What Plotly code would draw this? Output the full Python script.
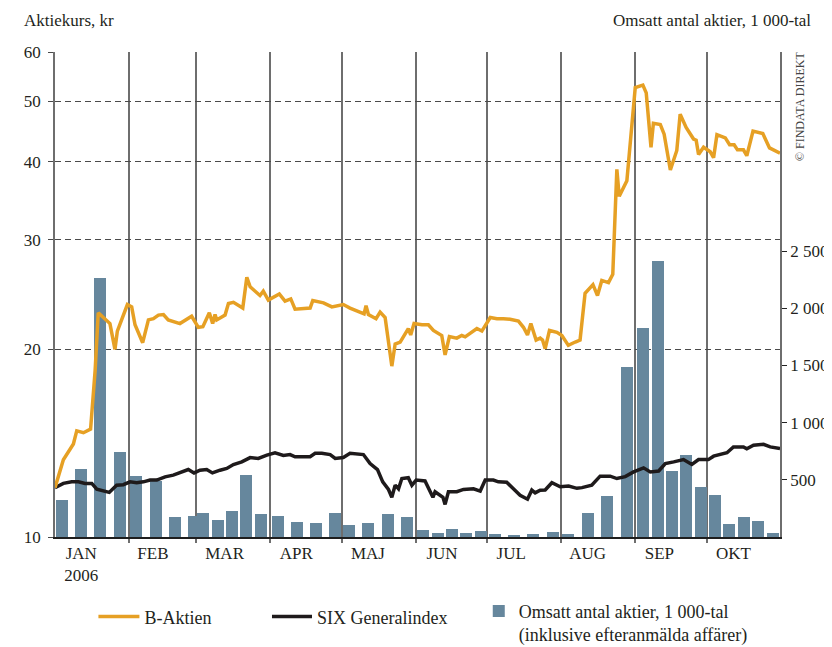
import pandas as pd
import plotly.graph_objects as go

# ---------------- data ----------------
START = "2006-01-01"

# B-Aktien, kr (days since 2006-01-01)
b_days = [0, 3.5, 7.7, 9.1, 11.9, 14.9, 16.8, 18.1, 23.0, 25.1, 26.1, 30.3, 32.1, 33.5, 36.7,
          39.1, 41.2, 43.3, 45.4, 47.4, 52.3, 57.2, 60.0, 61.9, 64.6, 66.0, 67.0, 67.7, 71.2,
          72.6, 74.7, 78.6, 80.3, 81.7, 85.8, 87.2, 89.3, 93.9, 96.3, 98.7, 100.5, 106.8, 107.9,
          112.4, 115.9, 120.7, 123.5, 127.7, 129.4, 130.2, 131.2, 134.4, 136.1, 138.2, 141.0,
          142.4, 144.5, 147.9, 148.9, 150.3, 153.6, 156.3, 158.4, 161.9, 163.3, 165.1, 168.2,
          170.3, 171.7, 176.6, 178.7, 182.2, 185.0, 187.7, 190.5, 194.0, 196.1, 197.8, 199.2,
          201.4, 203.1, 204.1, 205.2, 207.0, 210.1, 212.2, 214.9, 217.8, 219.8, 221.9, 225.2,
          227.1, 228.9, 231.7, 233.5, 235.2, 236.2, 239.4, 242.9, 246.1, 247.5, 249.5, 250.5,
          253.4, 255.0, 257.6, 260.3, 261.7, 264.2, 267.3, 268.4, 269.4, 271.5, 274.3, 275.7,
          277.1, 280.6, 282.4, 284.3, 285.7, 288.2, 289.6, 292.2, 296.3, 299.1, 303.5]
b_vals = [12.0, 13.3, 14.1, 14.8, 14.7, 14.9, 18.5, 22.9, 22.0, 20.0, 21.4, 23.6, 23.4, 21.9, 20.5,
          22.3, 22.4, 22.7, 22.75, 22.3, 22.0, 22.6, 21.7, 21.75, 22.9, 22.0, 22.75, 22.3, 22.7,
          23.7, 23.8, 23.3, 26.1, 25.2, 24.4, 24.8, 24.0, 24.55, 23.9, 24.1, 23.2, 23.3, 23.95,
          23.75, 23.4, 23.6, 23.3, 22.9, 22.8, 23.5, 22.75, 22.4, 22.95, 22.5, 18.8,
          20.4, 20.55, 21.6, 21.1, 22.0, 21.9, 21.9, 21.45, 21.05, 19.6, 20.97, 20.85,
          21.05, 20.95, 21.6, 21.4, 22.5, 22.4, 22.4, 22.35, 22.2, 21.7, 21.1, 22.0,
          20.7, 20.85, 20.7, 20.05, 21.45, 21.3, 21.05, 20.3, 20.55, 20.7, 24.6, 25.4,
          24.4, 25.8, 25.6, 26.4, 38.9, 35.2, 37.3, 52.6, 53.1, 51.6, 42.2, 46.1,
          45.9, 44.3, 38.8, 41.7, 47.7, 45.4, 43.5, 43.3, 41.1, 42.2, 41.5, 40.6,
          44.2, 43.7, 42.6, 42.6, 41.8, 41.8, 40.9, 44.8, 44.4, 42.1, 41.3]

# SIX Generalindex (rebased to the share price scale)
six_days = [0, 3.5, 7.0, 9.8, 12.6, 15.4, 17.5, 20.2, 22.7, 25.8, 28.6, 31.4, 34.2, 37.0, 39.8,
            42.6, 46.1, 49.5, 52.3, 55.8, 58.2, 60.7, 63.5, 65.9, 69.1, 71.9, 74.7, 78.2, 81.7,
            85.1, 88.7, 92.1, 95.6, 98.4, 100.5, 106.8, 108.9, 111.7, 115.2, 117.3, 120.7, 123.5,
            129.1, 131.9, 135.0, 137.2, 139.6, 141.0, 142.4, 143.8, 145.2, 147.9, 149.4, 151.2,
            154.9, 158.2, 159.1, 162.4, 163.3, 164.7, 168.2, 171.0, 175.2, 178.0, 180.1, 183.5,
            185.6, 189.1, 191.9, 194.7, 197.8, 199.6, 201.0, 203.1, 205.2, 208.0, 211.5, 215.0,
            218.5, 220.6, 224.7, 228.2, 232.4, 235.2, 238.7, 242.2, 246.4, 249.2, 252.7, 255.5,
            259.0, 263.1, 266.6, 269.4, 273.5, 275.7, 281.3, 284.0, 288.2, 289.6, 292.4, 296.6,
            299.4, 303.5]
six_vals = [12.0, 12.19, 12.26, 12.26, 12.19, 12.19, 11.93, 11.86, 11.79, 12.11, 12.13, 12.26, 12.22,
            12.26, 12.34, 12.34, 12.49, 12.57, 12.67, 12.83, 12.67, 12.80, 12.83, 12.67, 12.80,
            12.88, 13.07, 13.2, 13.41, 13.37, 13.53, 13.65, 13.52, 13.56, 13.45, 13.45, 13.62,
            13.62, 13.56, 13.37, 13.41, 13.62, 13.56, 13.12, 12.83, 12.26, 11.92, 11.58, 12.11,
            11.95, 12.41, 12.45, 12.11, 12.34, 12.3, 11.58, 11.82, 11.58, 11.28, 11.82, 11.82,
            11.92, 11.95, 11.85, 12.34, 12.34, 12.26, 12.24, 11.95, 11.67, 11.5, 11.89, 11.77,
            11.89, 11.9, 12.22, 12.04, 12.07, 11.97, 12.0, 12.11, 12.52, 12.52, 12.41, 12.5,
            12.72, 12.91, 12.72, 12.76, 13.12, 13.2, 13.31, 13.07, 13.31, 13.31, 13.48, 13.65,
            13.95, 13.95, 13.85, 14.04, 14.08, 13.95, 13.87]

# Omsatt antal aktier, 1 000-tal
vol_days = [2.8, 10.8, 18.8, 27.2, 33.9, 42.3, 50.2, 58.2, 61.9, 68.1, 74.1, 80.0, 86.3, 93.4,
            101.3, 109.3, 117.3, 123.1, 131.1, 139.4, 147.4, 154.1, 160.4, 166.2, 172.1, 178.4,
            184.3, 192.2, 200.2, 208.5, 214.8, 223.2, 231.2, 239.5, 246.2, 252.5, 258.4, 264.2,
            270.5, 276.4, 282.2, 288.5, 294.4, 300.7]
vol_vals = [325, 596, 2263, 745, 535, 491, 175, 184, 210, 149, 228, 544, 202, 184, 132, 123, 210,
            105, 123, 202, 175, 61, 35, 70, 35, 53, 26, 9, 26, 44, 26, 210, 360, 1482, 1824, 2412,
            579, 719, 439, 368, 114, 175, 140, 35]

month_starts = ["2006-02-01", "2006-03-01", "2006-04-01", "2006-05-01", "2006-06-01",
                "2006-07-01", "2006-08-01", "2006-09-01", "2006-10-01"]
month_label_pos = ["2006-01-12", "2006-02-11", "2006-03-13", "2006-04-12", "2006-05-12",
                   "2006-06-12", "2006-07-11", "2006-08-12", "2006-09-11", "2006-10-12"]
month_labels = ["JAN<br>2006", "FEB", "MAR", "APR", "MAJ", "JUN", "JUL", "AUG", "SEP", "OKT"]

price_ticks = [10, 20, 30, 40, 50, 60]
vol_ticks = [500, 1000, 1500, 2000, 2500]
vol_ticktext = ["500", "1 000", "1 500", "2 000", "2 500"]

# ---------------- figure ----------------
t0 = pd.Timestamp(START)
to_dates = lambda d: t0 + pd.to_timedelta(d, unit="D")

FONT = "Liberation Serif, Times New Roman, serif"
TXT = "#231f20"
ORANGE = "#e6a024"
BLACK = "#1e1a1b"
BLUE = "#66879d"
GRID = "#6e6e6e"

fig = go.Figure()
fig.add_trace(go.Bar(x=to_dates(vol_days), y=vol_vals, width=4.9 * 86400000,
                     marker=dict(color=BLUE, line=dict(width=0)),
                     name="Omsatt antal aktier, 1 000-tal<br>(inklusive efteranmälda affärer)",
                     yaxis="y", legend="legend3", showlegend=True))
fig.add_trace(go.Scatter(x=to_dates(six_days), y=six_vals, mode="lines", name="SIX Generalindex",
                         line=dict(color=BLACK, width=3.5), yaxis="y2", legend="legend2",
                         showlegend=True))
fig.add_trace(go.Scatter(x=to_dates(b_days), y=b_vals, mode="lines", name="B-Aktien",
                         line=dict(color=ORANGE, width=3.5), yaxis="y2", legend="legend",
                         showlegend=True))

# the page body adds an 8 px offset, so the figure is 8 px smaller than the window
fig.update_layout(
    width=824, height=639,
    showlegend=True,
    margin=dict(l=47, r=52, t=44, b=110, autoexpand=False),
    paper_bgcolor="white", plot_bgcolor="white",
    font=dict(family=FONT, size=17, color=TXT),
    bargap=0,
    xaxis=dict(
        type="date", range=[START, "2006-10-31 12:00"], automargin=False,
        showline=True, linecolor="#1e1e1e", linewidth=1.5,
        tickmode="array", tickvals=month_label_pos, ticktext=month_labels,
        ticks="", showgrid=False, zeroline=False, ticklabelstandoff=0,
        minor=dict(tickmode="array", tickvals=month_starts, showgrid=True,
                   gridcolor=GRID, gridwidth=1.5, ticks="outside", ticklen=4,
                   tickcolor=GRID, tickwidth=1.5),
        tickfont=dict(family=FONT, size=17, color=TXT),
    ),
    yaxis=dict(
        side="right", range=[0, 4240], tickmode="array", tickvals=vol_ticks,
        ticktext=vol_ticktext, showgrid=False, zeroline=False, automargin=False,
        ticks="outside", ticklen=5, tickcolor="#222", tickwidth=1,
        showline=True, linecolor=GRID, linewidth=1.5,
        tickfont=dict(family=FONT, size=17, color=TXT),
    ),
    yaxis2=dict(
        overlaying="y", side="left", type="log", range=[1, 1.77815], automargin=False,
        tickmode="array", tickvals=price_ticks, ticktext=[str(v) for v in price_ticks],
        showgrid=True, gridcolor="#4a4a4a", gridwidth=1.2, griddash="6px,4px",
        ticks="outside", ticklen=5, tickcolor="#4a4a4a", tickwidth=1.2,
        showline=True, linecolor=GRID, linewidth=1.5, zeroline=False,
        ticklabelstandoff=4,
        tickfont=dict(family=FONT, size=17, color=TXT),
    ),
    legend=dict(x=0.053, y=-0.1264, xanchor="left", yanchor="top", bgcolor="rgba(0,0,0,0)",
                font=dict(family=FONT, size=18, color=TXT), itemwidth=41, visible=True),
    legend2=dict(x=0.2924, y=-0.1264, xanchor="left", yanchor="top", bgcolor="rgba(0,0,0,0)",
                 font=dict(family=FONT, size=18, color=TXT), itemwidth=40, visible=True),
    legend3=dict(x=0.5845, y=-0.1150, xanchor="left", yanchor="top", bgcolor="rgba(0,0,0,0)",
                 font=dict(family=FONT, size=18, color=TXT), itemwidth=30, valign="top",
                 visible=True),
    annotations=[
        dict(text="Aktiekurs, kr", xref="paper", yref="paper", x=-0.046, y=1.064,
             xanchor="left", yanchor="middle", showarrow=False,
             font=dict(family=FONT, size=17, color=TXT)),
        dict(text="Omsatt antal aktier, 1 000-tal", xref="paper", yref="paper", x=1.045, y=1.064,
             xanchor="right", yanchor="middle", showarrow=False,
             font=dict(family=FONT, size=17, color=TXT)),
        dict(text="© FINDATA DIREKT", xref="paper", yref="paper", x=1.028, y=0.887,
             xanchor="center", yanchor="middle", textangle=-90, showarrow=False,
             font=dict(family=FONT, size=12, color="#444")),
    ],
)

fig.write_html("out.html")
